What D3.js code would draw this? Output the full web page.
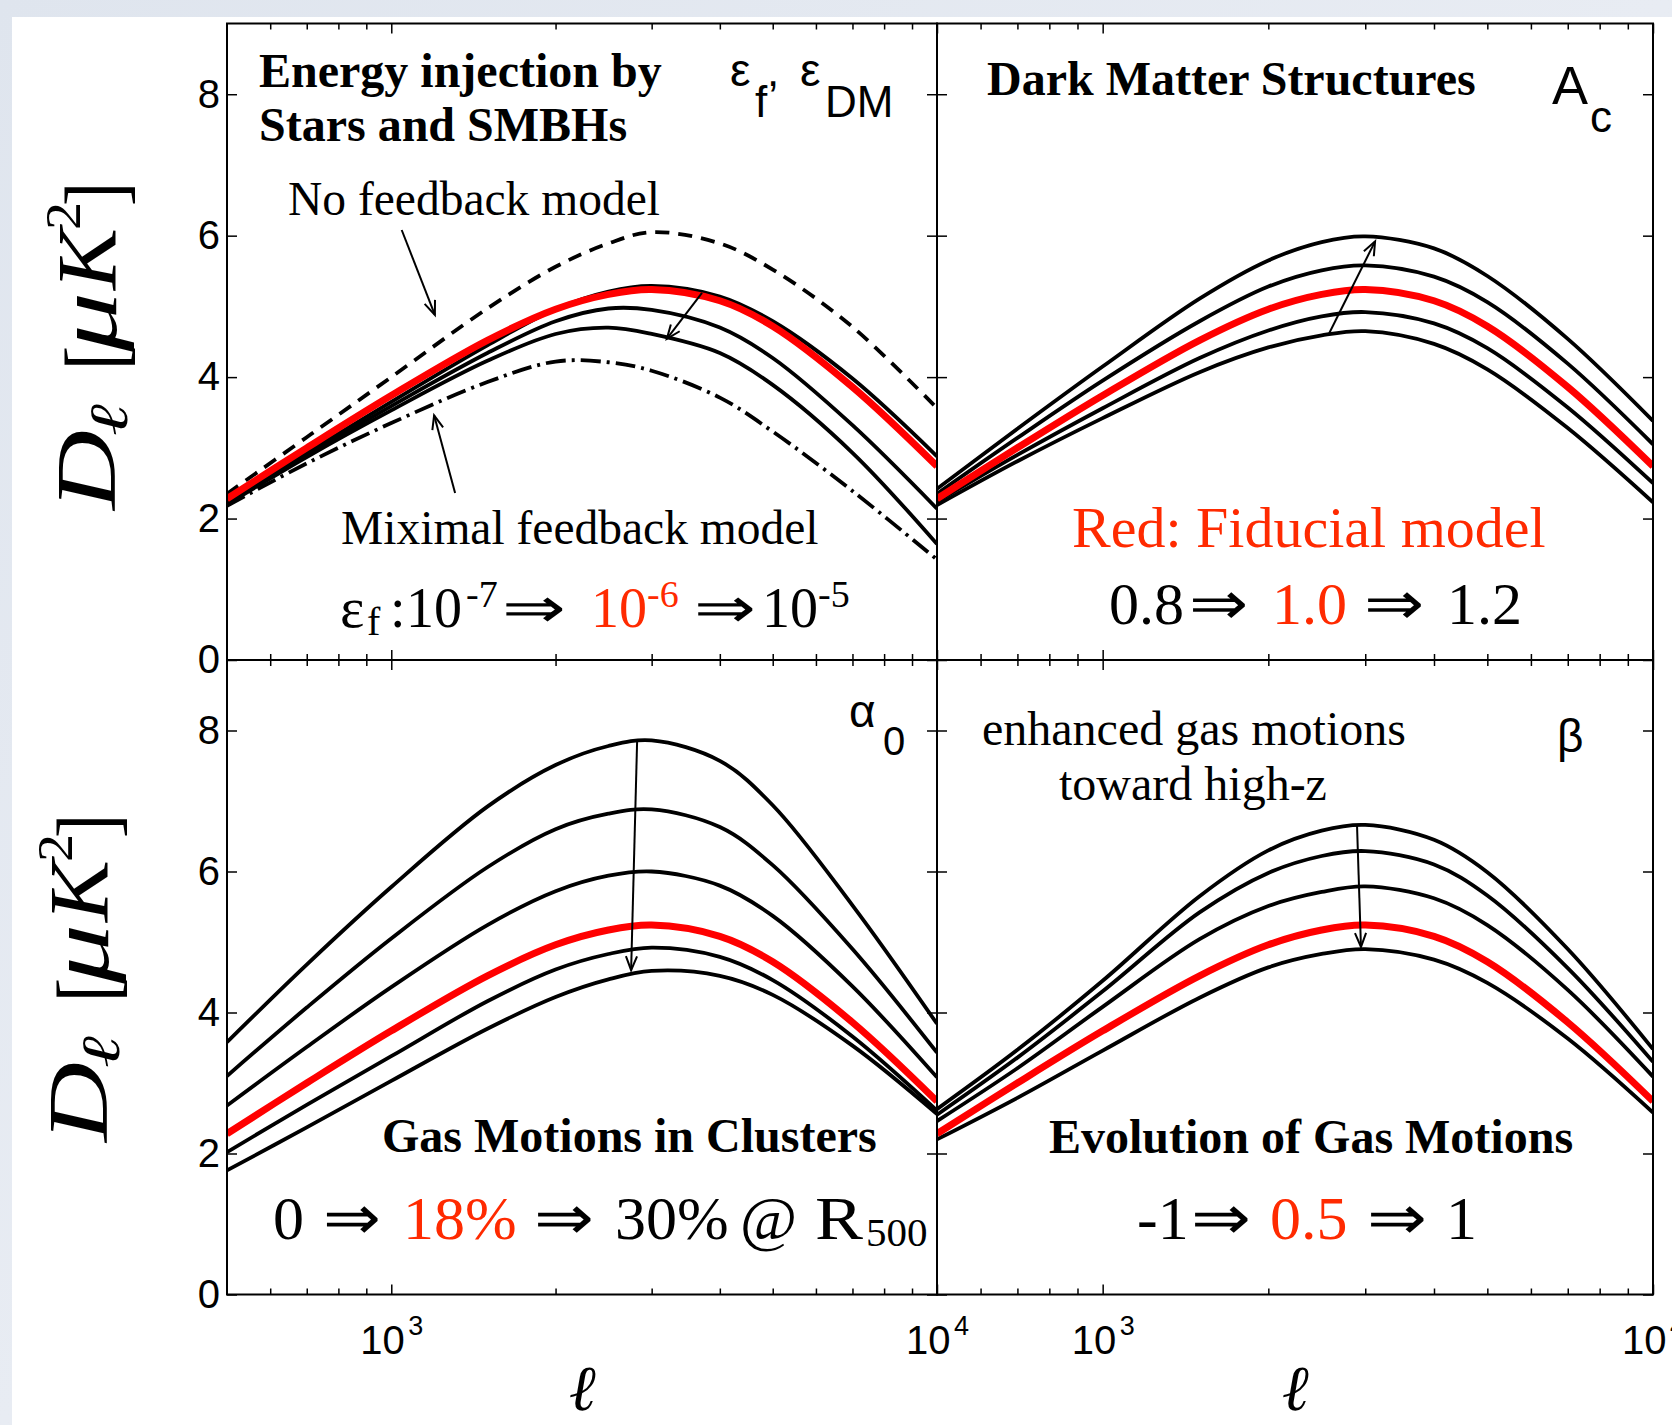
<!DOCTYPE html>
<html>
<head>
<meta charset="utf-8">
<script src="https://cdn.jsdelivr.net/npm/d3@7"></script>
<style>
  body { margin: 0; background: #fff; }
  svg { display: block; }
</style>
</head>
<body>
<div id="chart"></div>
<script>
// multipole samples shared by every curve
const ell = [500, 700, 1000, 1500, 2000, 2500, 3000, 4000, 5000, 7000, 10000];

// fiducial model (red) - same in all four panels
const fiducial = [2.28, 3.00, 3.74, 4.52, 4.96, 5.17, 5.24, 5.08, 4.72, 3.86, 2.74];

// top left: energy injection
const noFeedback = [2.35, 3.15, 4.00, 4.97, 5.56, 5.89, 6.05, 5.89, 5.52, 4.71, 3.56];
const epsLow = [2.23, 2.93, 3.65, 4.45, 4.96, 5.21, 5.29, 5.14, 4.79, 3.98, 2.88];
const epsMid = [2.22, 2.90, 3.59, 4.34, 4.79, 4.97, 4.95, 4.70, 4.27, 3.32, 2.14];
const epsHigh = [2.20, 2.87, 3.53, 4.23, 4.61, 4.70, 4.61, 4.34, 3.89, 2.93, 1.64];
const maxFeedback = [2.18, 2.78, 3.35, 3.93, 4.22, 4.21, 4.09, 3.71, 3.23, 2.39, 1.42];

// top right: A_c
const ac12 = [2.42, 3.27, 4.15, 5.11, 5.65, 5.91, 5.99, 5.82, 5.43, 4.54, 3.38];
const ac11 = [2.35, 3.14, 3.95, 4.79, 5.28, 5.51, 5.58, 5.42, 5.06, 4.19, 3.05];
const ac09 = [2.24, 2.90, 3.56, 4.27, 4.66, 4.86, 4.92, 4.76, 4.41, 3.57, 2.50];
const ac08 = [2.19, 2.81, 3.42, 4.07, 4.42, 4.59, 4.65, 4.47, 4.11, 3.28, 2.23];

// bottom left: alpha_0
const alpha0 = [3.58, 4.68, 5.78, 6.92, 7.51, 7.78, 7.86, 7.57, 6.94, 5.52, 3.84];
const alpha1 = [3.10, 4.07, 5.05, 6.06, 6.60, 6.82, 6.88, 6.63, 6.09, 4.90, 3.43];
const alpha2 = [2.68, 3.51, 4.36, 5.24, 5.72, 5.94, 6.00, 5.80, 5.37, 4.37, 3.08];
const alpha4 = [2.02, 2.69, 3.38, 4.16, 4.61, 4.83, 4.92, 4.79, 4.46, 3.66, 2.61];
const alpha5 = [1.76, 2.37, 3.03, 3.77, 4.22, 4.47, 4.59, 4.52, 4.25, 3.53, 2.56];

// bottom right: beta
const beta1 = [2.63, 3.47, 4.45, 5.65, 6.30, 6.58, 6.66, 6.45, 5.99, 4.90, 3.48];
const beta2 = [2.55, 3.36, 4.30, 5.42, 5.98, 6.22, 6.29, 6.10, 5.66, 4.63, 3.30];
const beta3 = [2.46, 3.21, 4.08, 5.04, 5.51, 5.71, 5.79, 5.62, 5.24, 4.32, 3.09];
const beta5 = [2.20, 2.79, 3.46, 4.21, 4.64, 4.83, 4.90, 4.75, 4.42, 3.63, 2.58];

const yTicks = [0, 2, 4, 6, 8];
const xMajor = [1000, 10000];
const xMinor = [600, 700, 800, 900, 2000, 3000, 4000, 5000, 6000, 7000, 8000, 9000];

const SERIF = "'Liberation Serif','Times New Roman',Times,serif";
const SANS = "'Liberation Sans',Arial,Helvetica,sans-serif";
const RED = "#ff0000";
const RED_TXT = "#ff2a00";

const width = 1672;
const height = 1425;

const svg = d3.select("#chart").append("svg")
  .attr("width", width)
  .attr("height", height);

// slide background round the figure
const defs = svg.append("defs");
const grad = defs.append("linearGradient").attr("id", "bg")
  .attr("x1", 0).attr("y1", 0).attr("x2", 1).attr("y2", 1);
grad.append("stop").attr("offset", 0).attr("stop-color", "#dfe5ee");
grad.append("stop").attr("offset", 0.5).attr("stop-color", "#e8ecf3");
grad.append("stop").attr("offset", 1).attr("stop-color", "#dde3ec");
svg.append("rect").attr("width", width).attr("height", height).attr("fill", "url(#bg)");
svg.append("rect").attr("x", 12).attr("y", 17)
  .attr("width", width - 12).attr("height", height - 17).attr("fill", "#fff");

const panels = [
  { id: "tl", x: [227, 937], y: [660, 23.5], yLabels: true, xLabels: false,
    curves: [
      { v: noFeedback, dash: "14,9" },
      { v: maxFeedback, dash: "20,6,3,6" },
      { v: epsHigh }, { v: epsMid }, { v: epsLow },
      { v: fiducial, red: true }
    ],
    arrows: [[[1045, 6.08], [1202, 4.88]], [[1309, 2.36], [1198, 3.46]], [[3710, 5.19], [3198, 4.54]]] },
  { id: "tr", x: [937, 1653], y: [660, 23.5], yLabels: false, xLabels: false,
    curves: [{ v: ac12 }, { v: ac11 }, { v: ac09 }, { v: ac08 }, { v: fiducial, red: true }],
    arrows: [[[2580, 4.62], [3126, 5.92]]] },
  { id: "bl", x: [227, 937], y: [1294.5, 660], yLabels: true, xLabels: true,
    curves: [{ v: alpha0 }, { v: alpha1 }, { v: alpha2 }, { v: alpha4 }, { v: alpha5 }, { v: fiducial, red: true }],
    arrows: [[[2822, 7.87], [2751, 4.60]]] },
  { id: "br", x: [937, 1653], y: [1294.5, 660], yLabels: false, xLabels: true,
    curves: [{ v: beta1 }, { v: beta2 }, { v: beta3 }, { v: beta5 }, { v: fiducial, red: true }],
    arrows: [[[2898, 6.67], [2947, 4.93]]] }
];

function arrow(g, x, y, from, to) {
  const x0 = x(from[0]), y0 = y(from[1]), x1 = x(to[0]), y1 = y(to[1]);
  const a = Math.atan2(y1 - y0, x1 - x0), L = 15, w = 0.38;
  g.append("line").attr("x1", x0).attr("y1", y0).attr("x2", x1).attr("y2", y1)
    .attr("stroke", "#000").attr("stroke-width", 2);
  g.append("path")
    .attr("d", `M${x1 - L * Math.cos(a - w)},${y1 - L * Math.sin(a - w)}L${x1},${y1}L${x1 - L * Math.cos(a + w)},${y1 - L * Math.sin(a + w)}`)
    .attr("fill", "none").attr("stroke", "#000").attr("stroke-width", 2);
}

panels.forEach(p => {
  const x = d3.scaleLog().domain([500, 10000]).range(p.x);
  const y = d3.scaleLinear().domain([0, 9]).range(p.y);
  const g = svg.append("g").attr("id", p.id);

  defs.append("clipPath").attr("id", "clip-" + p.id)
    .append("rect").attr("x", p.x[0]).attr("y", p.y[1])
    .attr("width", p.x[1] - p.x[0]).attr("height", p.y[0] - p.y[1]);

  const line = d3.line()
    .x((d, i) => x(ell[i]))
    .y(d => y(d))
    .curve(d3.curveCatmullRom.alpha(0.5));

  const cg = g.append("g").attr("clip-path", `url(#clip-${p.id})`);
  p.curves.forEach(c => {
    cg.append("path")
      .attr("d", line(c.v))
      .attr("fill", "none")
      .attr("stroke", c.red ? RED : "#000")
      .attr("stroke-width", c.red ? 7 : 3.8)
      .attr("stroke-dasharray", c.dash || null)
      .attr("stroke-linejoin", "round");
  });

  p.arrows.forEach(a => arrow(g, x, y, a[0], a[1]));

  // axes, ticks pointing inwards on all four sides
  const styleAxis = sel => {
    sel.select(".domain").remove();
    sel.selectAll(".tick line").attr("stroke-width", 1.5);
    sel.attr("font-family", SANS).attr("font-size", 40);
  };
  g.append("g").attr("transform", `translate(${p.x[0]},0)`)
    .call(d3.axisLeft(y).tickValues(yTicks).tickSize(-10).tickPadding(7)
      .tickFormat(p.yLabels ? d3.format("d") : ""))
    .call(styleAxis);
  g.append("g").attr("transform", `translate(${p.x[1]},0)`)
    .call(d3.axisRight(y).tickValues(yTicks).tickSize(-10).tickFormat(""))
    .call(styleAxis);
  [[d3.axisBottom, p.y[0]], [d3.axisTop, p.y[1]]].forEach(([ax, yy]) => {
    g.append("g").attr("transform", `translate(0,${yy})`)
      .call(ax(x).tickValues(xMajor).tickSize(-10).tickFormat(""))
      .call(styleAxis);
    g.append("g").attr("transform", `translate(0,${yy})`)
      .call(ax(x).tickValues(xMinor).tickSize(-6).tickFormat(""))
      .call(styleAxis);
  });

  if (p.xLabels) {
    xMajor.forEach(v => {
      const t = g.append("text").attr("x", x(v) - 31).attr("y", 1354)
        .attr("font-family", SANS).attr("font-size", 40).text("10");
      t.append("tspan").attr("x", x(v) + 17).attr("y", 1335)
        .attr("font-size", 27).text(Math.round(Math.log10(v)));
    });
    g.append("text").attr("x", (p.x[0] + p.x[1]) / 2).attr("y", 1410)
      .attr("font-family", SERIF).attr("font-style", "italic")
      .attr("font-size", 64).attr("text-anchor", "middle").text("ℓ");
  }

  g.append("rect").attr("x", p.x[0]).attr("y", p.y[1])
    .attr("width", p.x[1] - p.x[0]).attr("height", p.y[0] - p.y[1])
    .attr("fill", "none").attr("stroke", "#000").attr("stroke-width", 2);
});

function txt(x, y, str, o = {}) {
  const t = svg.append("text").attr("x", x).attr("y", y)
    .attr("font-family", o.family || SERIF)
    .attr("font-size", o.size || 48)
    .attr("fill", o.fill || "#000")
    .text(str);
  if (o.weight) t.attr("font-weight", o.weight);
  if (o.style) t.attr("font-style", o.style);
  if (o.len) t.attr("textLength", o.len).attr("lengthAdjust", "spacingAndGlyphs");
  return t;
}

// top left
txt(259, 87, "Energy injection by", { weight: "bold" });
txt(259, 141, "Stars and SMBHs", { weight: "bold" });
txt(730, 86, "ε", { family: SANS, size: 46 });
txt(755, 117, "f", { family: SANS, size: 44 });
txt(767, 86, ",", { family: SANS, size: 44 });
txt(800, 86, "ε", { family: SANS, size: 46 });
txt(825, 117, "DM", { family: SANS, size: 44 });
txt(288, 215, "No feedback model", { size: 47.5 });
txt(341, 544, "Miximal feedback model", { size: 47.5 });
txt(340, 627, "ε", { size: 58 });
txt(367, 635, "f", { size: 40 });
txt(390, 627, ":", { size: 56 });
txt(406, 627, "10", { size: 56 });
txt(466, 607, "-7", { size: 38 });
txt(502, 627, "⇒", { size: 56, len: 64 });
txt(591, 627, "10", { size: 56, fill: RED_TXT });
txt(647, 607, "-6", { size: 38, fill: RED_TXT });
txt(694, 627, "⇒", { size: 56, len: 62 });
txt(762, 627, "10", { size: 56 });
txt(818, 607, "-5", { size: 38 });

// top right
txt(987, 95, "Dark Matter Structures", { weight: "bold" });
txt(1552, 104, "A", { family: SANS, size: 54 });
txt(1590, 132, "c", { family: SANS, size: 44 });
txt(1072, 547, "Red: Fiducial model", { size: 58, fill: RED_TXT });
txt(1109, 624, "0.8", { size: 60 });
txt(1189, 624, "⇒", { size: 60, len: 59 });
txt(1272, 624, "1.0", { size: 60, fill: RED_TXT });
txt(1364, 624, "⇒", { size: 60, len: 60 });
txt(1447, 624, "1.2", { size: 60 });

// bottom left
txt(849, 727, "α", { family: SANS, size: 46 });
txt(883, 755, "0", { family: SANS, size: 40 });
txt(382, 1152, "Gas Motions in Clusters", { weight: "bold" });
txt(273, 1239, "0", { size: 62 });
txt(323, 1239, "⇒", { size: 62, len: 58 });
txt(403, 1239, "18%", { size: 62, fill: RED_TXT });
txt(534, 1239, "⇒", { size: 62, len: 60 });
txt(615, 1239, "30%", { size: 62 });
txt(740, 1239, "@", { size: 62 });
txt(815, 1239, "R", { size: 62, len: 48 });
txt(866, 1246, "500", { size: 41 });

// bottom right
txt(982, 745, "enhanced gas motions", { size: 48 });
txt(1059, 800, "toward high-z", { size: 48 });
txt(1557, 752, "β", { family: SANS, size: 46 });
txt(1049, 1153, "Evolution of Gas Motions", { weight: "bold" });
txt(1137, 1239, "-1", { size: 62 });
txt(1191, 1239, "⇒", { size: 62, len: 60 });
txt(1270, 1239, "0.5", { size: 62, fill: RED_TXT });
txt(1367, 1239, "⇒", { size: 62, len: 60 });
txt(1446, 1239, "1", { size: 62 });

// rotated y labels: D_l [mu K^2]
function yLabel(dx, dy) {
  const pieces = [
    { t: "D", bx: 115, y: 510, size: 84, italic: true, len: 80 },
    { t: "ℓ", bx: 127, y: 436, size: 54, italic: true, len: 32 },
    { t: "[", bx: 124, y: 370, size: 84, len: 24 },
    { t: "μ", bx: 116, y: 352, size: 84, italic: true, len: 60 },
    { t: "K", bx: 116, y: 290, size: 84, italic: true, len: 62 },
    { t: "2", bx: 80, y: 230, size: 50, len: 28 },
    { t: "]", bx: 124, y: 206, size: 84, len: 24 }
  ];
  pieces.forEach(q => {
    const t = svg.append("text")
      .attr("transform", `translate(${q.bx + dx},${q.y + dy}) rotate(-90)`)
      .attr("font-family", SERIF).attr("font-size", q.size)
      .attr("textLength", q.len).attr("lengthAdjust", "spacingAndGlyphs")
      .text(q.t);
    if (q.italic) t.attr("font-style", "italic");
  });
}
yLabel(0, 0);
yLabel(-8, 632);
</script>
</body>
</html>
